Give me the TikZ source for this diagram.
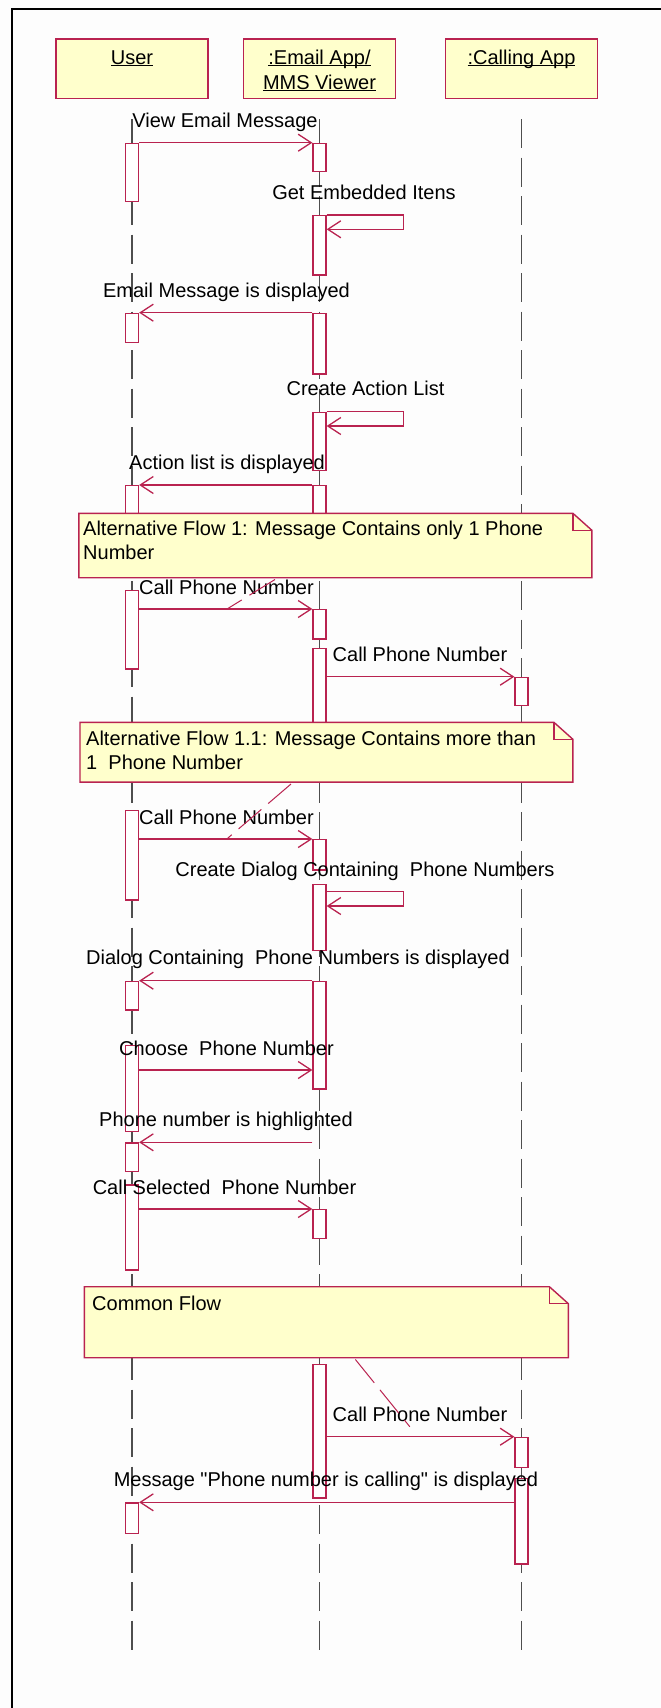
\documentclass[tikz,border=0pt]{standalone}
\usepackage{fontspec}
\setmainfont{Liberation Sans}
\usetikzlibrary{arrows.meta}
\definecolor{rosered}{RGB}{185,35,80}
\definecolor{notefill}{RGB}{255,255,204}
\definecolor{lifegray}{RGB}{78,78,78}
\definecolor{paper}{RGB}{253,253,253}
\newcommand{\objname}[1]{\setbox0=\hbox{#1}\rlap{\rule[-1.8pt]{\wd0}{1.2pt}}\box0}
\newcommand{\foldnote}[1]{%
  \draw[note] (#1.north west) -- ([xshift=-19pt]#1.north east) -- ([yshift=-17pt]#1.north east)
      -- (#1.south east) -- (#1.south west) -- cycle;
  \draw[fold] ([xshift=-19pt]#1.north east) |- ([yshift=-17pt]#1.north east);}

\begin{document}
\begin{tikzpicture}[x=1pt, y=-1pt,
    font=\fontsize{20}{24}\selectfont,
    obj/.style={draw=rosered, line width=1.4pt, fill=notefill, minimum width=152pt, minimum height=59.5pt, anchor=north, inner sep=0pt},
    objtxt/.style={anchor=base, align=center, inner sep=0pt, font=\fontsize{20}{25.3}\selectfont},
    life/.style={draw=lifegray, line width=1.3pt, dash pattern=on 29pt off 9.5pt},
    act/.style={draw=rosered, line width=1.3pt, fill=white, minimum width=13pt, minimum height=#1, anchor=north, inner sep=0pt},
    msg/.style={draw=rosered, line width=1.3pt, -{Straight Barb[length=13pt,width=17pt]}},
    lbl/.style={anchor=base, inner sep=0pt},
    notearea/.style={anchor=north west, inner sep=0pt},
    note/.style={draw=rosered, line width=1.4pt, fill=notefill},
    fold/.style={draw=rosered, line width=1.4pt},
    notetxt/.style={anchor=base west, align=left, inner sep=0pt},
    anchorline/.style={draw=rosered, line width=1pt, dash pattern=on 30pt off 9pt}]

  \fill[paper] (0,0) rectangle (661,1708);
  \useasboundingbox (0,0) rectangle (661,1708);
  \draw[line width=2.3pt] (12,1708) -- (12,9.3) -- (661,9.3);

  % ---- objects -------------------------------------------------------
  \node[obj] (user)    at (132,38.3)   {};
  \node[obj] (email)   at (319.5,38.3) {};
  \node[obj] (calling) at (521.5,38.3) {};
  \node[objtxt] (usertxt)    at (132,64)   {\objname{User}};
  \node[objtxt] (emailtxt)   at (319.5,89.3) {\objname{:Email App/}\\\objname{MMS Viewer}};
  \node[objtxt] (callingtxt) at (521.5,64) {\objname{:Calling App}};

  % ---- lifelines -----------------------------------------------------
  \draw[life] ([yshift=-20pt]user.south)    -- ++(0,1540);
  \draw[life] ([yshift=-20pt]email.south)   -- ++(0,1540);
  \draw[life] ([yshift=-20pt]calling.south) -- ++(0,1540);

  % ---- activations ---------------------------------------------------
  \node[act=58.3pt]  (u1)  at (132,142.7)  {};
  \node[act=29pt]    (u2)  at (132,312.7)  {};
  \node[act=55pt]    (u3)  at (132,485)    {};
  \node[act=78.3pt]  (u4)  at (132,590)    {};
  \node[act=89.3pt]  (u5)  at (132,810)    {};
  \node[act=28.6pt]  (u6)  at (132,980.7)  {};
  \node[act=85.7pt]  (u7)  at (132,1045)   {};
  \node[act=28.7pt]  (u8)  at (132,1142.3) {};
  \node[act=85pt]    (u9)  at (132,1184.3) {};
  \node[act=30.4pt]  (u10) at (132,1502.3) {};

  \node[act=28.3pt]  (e1)  at (319.5,142.7) {};
  \node[act=59.3pt]  (e2)  at (319.5,215)   {};
  \node[act=60.6pt]  (e3)  at (319.5,312.7) {};
  \node[act=58.3pt]  (e4)  at (319.5,411.7) {};
  \node[act=55pt]    (e5)  at (319.5,485)   {};
  \node[act=29.3pt]  (e6)  at (319.5,609)   {};
  \node[act=92.3pt]  (e7)  at (319.5,647.7) {};
  \node[act=30.3pt]  (e8)  at (319.5,839)   {};
  \node[act=66pt]    (e9)  at (319.5,884)   {};
  \node[act=107.6pt] (e10) at (319.5,980.7) {};
  \node[act=28.7pt]  (e11) at (319.5,1209)  {};
  \node[act=133.3pt] (e12) at (319.5,1364)  {};

  \node[act=28.3pt]  (c1)  at (521.5,676.7)  {};
  \node[act=30pt]    (c2)  at (521.5,1436.7) {};
  \node[act=85.3pt]  (c3)  at (521.5,1478)   {};

  % ---- messages ------------------------------------------------------
  \draw[msg] (u1.north east) -- (e1.north west);
  \draw[msg] (e2.north east) -- ++(77,0) -- ++(0,14.3) -- ([yshift=-14.3pt]e2.north east);
  \draw[msg] (e3.north west) -- (u2.north east);
  \draw[msg] (e4.north east) -- ++(77,0) -- ++(0,14.3) -- ([yshift=-14.3pt]e4.north east);
  \draw[msg] (e5.north west) -- (u3.north east);
  \draw[msg] (u4.east |- e6.north) -- (e6.north west);
  \draw[msg] (e7.east |- c1.north) -- (c1.north west);
  \draw[msg] (u5.east |- e8.north) -- (e8.north west);
  \draw[msg] ([yshift=-7.7pt]e9.north east) -- ++(77,0) -- ++(0,14.3) -- ([yshift=-22pt]e9.north east);
  \draw[msg] (e10.north west) -- (u6.north east);
  \coordinate (m8) at (0,1070);
  \draw[msg] (u7.east |- m8) -- (e10.west |- m8);
  \draw[msg] (e10.west |- u8.north) -- (u8.north east);
  \draw[msg] (u9.east |- e11.north) -- (e11.north west);
  \draw[msg] (e12.east |- c2.north) -- (c2.north west);
  \draw[msg] (c3.west |- u10.north) -- (u10.north east);

  % ---- message labels ------------------------------------------------
  \node[lbl] (t1)  at (225,127)    {View Email Message};
  \node[lbl] (t2)  at (364,199)    {Get Embedded Itens};
  \node[lbl] (t3)  at (226.5,297)  {Email Message is displayed};
  \node[lbl] (t4)  at (365.5,395.5) {Create Action List};
  \node[lbl] (t5)  at (227,469)    {Action list is displayed};
  \node[lbl] (t6)  at (226.5,594)  {Call Phone Number};
  \node[lbl] (t7)  at (420,661)    {Call Phone Number};
  \node[lbl] (t8)  at (226.5,824)  {Call Phone Number};
  \node[lbl] (t9)  at (365,876)    {Create Dialog Containing\ \ Phone Numbers};
  \node[lbl] (t10) at (298,964.5)  {Dialog Containing\ \ Phone Numbers is displayed};
  \node[lbl] (t11) at (226.5,1055) {Choose\ \ Phone Number};
  \node[lbl] (t12) at (226,1126.5) {Phone number is highlighted};
  \node[lbl] (t13) at (224.5,1194) {Call Selected\ \ Phone Number};
  \node[lbl] (t14) at (420,1421.5) {Call Phone Number};
  \node[lbl] (t15) at (326,1486.5) {Message \textquotedbl Phone number is calling\textquotedbl\ is displayed};

  % ---- notes ---------------------------------------------------------
  \node[notearea, minimum width=512.7pt, minimum height=64pt]   (n1) at (78.8,513.3) {};
  \foldnote{n1}
  \node[notetxt] (n1txt) at (83,559.5) {Alternative Flow 1: Message Contains only 1 Phone\\Number};

  \node[notearea, minimum width=492.5pt, minimum height=59.4pt] (n2) at (80,722.3) {};
  \foldnote{n2}
  \node[notetxt] (n2txt) at (86,769) {Alternative Flow 1.1: Message Contains more than\\1\ \ Phone Number};

  \node[notearea, minimum width=483.7pt, minimum height=70.6pt] (n3) at (84.3,1286.7) {};
  \foldnote{n3}
  \node[notetxt] (n3txt) at (92,1310.7) {Common Flow};

  % ---- note anchors --------------------------------------------------
  \coordinate (n1a) at (275,579.5);
  \coordinate (t6a) at (227,609);
  \coordinate (n2a) at (291,784);
  \coordinate (t8a) at (227.6,838.3);
  \coordinate (n3a) at (355.4,1359.5);
  \coordinate (t14a) at (409.8,1426.7);
  \draw[anchorline] (n1a) -- (t6a);
  \draw[anchorline] (n2a) -- (t8a);
  \draw[anchorline] (n3a) -- (t14a);
\end{tikzpicture}
\end{document}
